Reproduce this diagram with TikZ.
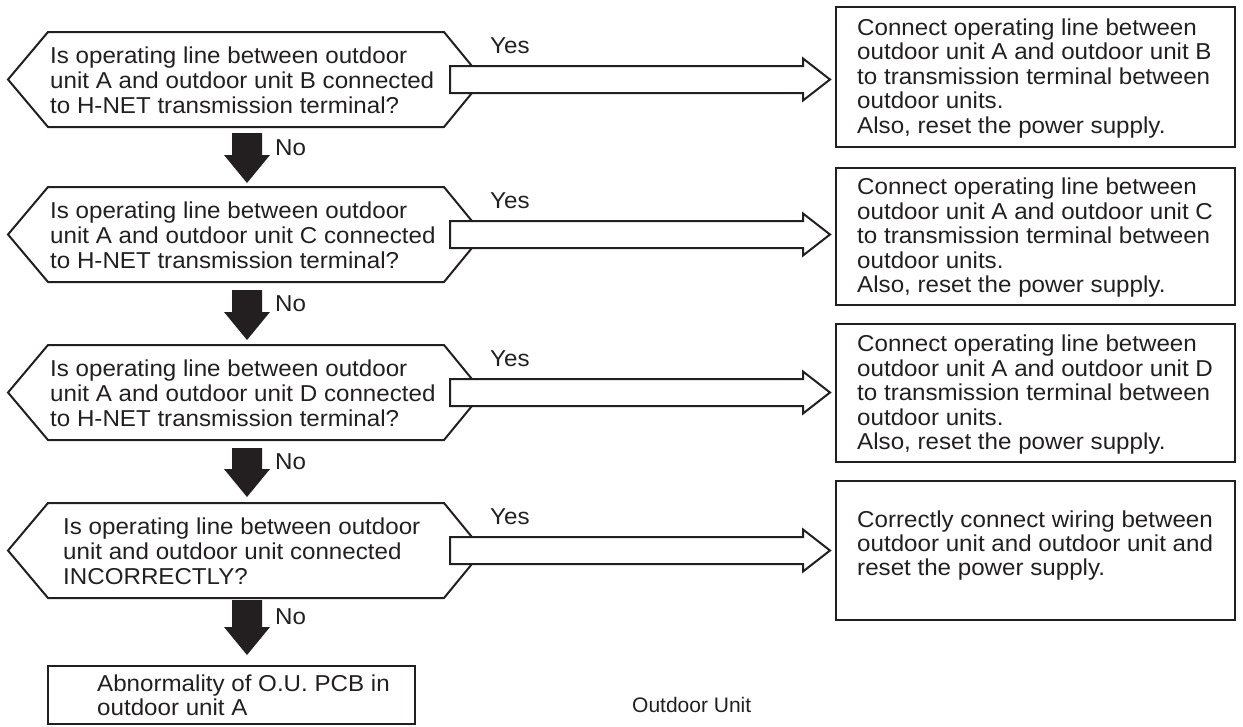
\documentclass[tikz,border=0pt]{standalone}
\usepackage{fontspec}
\setmainfont{Liberation Sans}
\newfontfamily\bodyfont[FakeStretch=1.05]{Liberation Sans}
\usetikzlibrary{calc}
\definecolor{ink}{HTML}{231F20}
\newcommand\TightLS{\lineskiplimit=-100pt\relax}
\newcommand\DownBlk[2]{%
  \fill[ink] let \p1=(#1), \p2=(#2) in
    (\x1-15pt,\y1) -- (\x1+15pt,\y1) -- (\x1+15pt,\y2+28pt) -- (\x1+23pt,\y2+28pt)
    -- (\x1,\y2) -- (\x1-23pt,\y2+28pt) -- (\x1-15pt,\y2+28pt) -- cycle;}
\newcommand\YesBlk[2]{%
  \draw[yesarr] let \p1=($(#1)+(6,0)$), \p2=($(#2)+(-6,0)$) in
    (\x1,\y1+13.5pt) -- (\x2-27pt,\y1+13.5pt) -- (\x2-27pt,\y1+21pt) -- (\x2,\y1)
    -- (\x2-27pt,\y1-21pt) -- (\x2-27pt,\y1-13.5pt) -- (\x1,\y1-13.5pt) -- cycle;}
\newcommand\HexOut[1]{%
  \draw[hexline] (#1.north west) -- (#1.north east) -- ($(#1.east)+(39,0)$)
    -- (#1.south east) -- (#1.south west) -- ($(#1.west)+(-40,0)$) -- cycle;}
\begin{document}
\begin{tikzpicture}[x=1pt,y=-1pt,
  hexcore/.style={minimum width=396pt,minimum height=95pt,inner sep=0pt,outer sep=0pt},
  hexline/.style={draw=ink,line width=2pt,line join=miter},
  qtext/.style={anchor=north west,inner sep=0pt,align=left,text=ink,
    font={\bodyfont\fontsize{23}{25}\selectfont\TightLS}},
  atext/.style={anchor=north west,inner sep=0pt,align=left,text=ink,
    font={\bodyfont\fontsize{23}{24.5}\selectfont\TightLS}},
  abox/.style={draw=ink,line width=2pt,minimum width=399pt,inner sep=0pt,outer sep=0pt},
  yesarr/.style={draw=ink,line width=2pt,fill=white,line join=miter},
  lbl/.style={anchor=west,inner sep=0pt,text=ink,font={\bodyfont\fontsize{23}{25}\selectfont}},
  small/.style={anchor=west,inner sep=0pt,text=ink,font={\fontsize{21}{24}\selectfont}}]
\useasboundingbox (0,0) rectangle (1243,726);

% decision hexagons
\node[hexcore] (h1) at (246,79.5) {};
\node[hexcore] (h2) at (246,234.5) {};
\node[hexcore] (h3) at (246,392.5) {};
\node[hexcore] (h4) at (246,550.5) {};
\HexOut{h1}\HexOut{h2}\HexOut{h3}\HexOut{h4}

\node[qtext] (q1) at (50,46.7) {Is operating line between outdoor\\unit A and outdoor unit B connected\\to H-NET transmission terminal?};
\node[qtext] (q2) at (50,201.7) {Is operating line between outdoor\\unit A and outdoor unit C connected\\to H-NET transmission terminal?};
\node[qtext] (q3) at (50,359.7) {Is operating line between outdoor\\unit A and outdoor unit D connected\\to H-NET transmission terminal?};
\node[qtext] (q4) at (63,517.7) {Is operating line between outdoor\\unit and outdoor unit connected\\INCORRECTLY?};

% action boxes
\node[abox,minimum height=140pt] (b1) at (1035.5,77) {};
\node[abox,minimum height=137pt] (b2) at (1035.5,236.5) {};
\node[abox,minimum height=138pt] (b3) at (1035.5,393) {};
\node[abox,minimum height=139pt] (b4) at (1035.5,550.5) {};

\node[atext] (a1) at (857,18.5) {Connect operating line between\\outdoor unit A and outdoor unit B\\to transmission terminal between\\outdoor units.\\Also, reset the power supply.};
\node[atext] (a2) at (857,178) {Connect operating line between\\outdoor unit A and outdoor unit C\\to transmission terminal between\\outdoor units.\\Also, reset the power supply.};
\node[atext] (a3) at (857,335) {Connect operating line between\\outdoor unit A and outdoor unit D\\to transmission terminal between\\outdoor units.\\Also, reset the power supply.};
\node[atext,font={\bodyfont\fontsize{23}{24}\selectfont\TightLS}] (a4) at (857,510.5) {Correctly connect wiring between\\outdoor unit and outdoor unit and\\reset the power supply.};

% final box
\node[draw=ink,line width=2pt,minimum width=367pt,minimum height=58pt,inner sep=0pt,outer sep=0pt] (bot) at (231.5,695) {};
\node[anchor=north west,inner sep=0pt,align=left,text=ink,font={\bodyfont\fontsize{23}{24}\selectfont\TightLS}] (fin) at (97,674.5) {Abnormality of O.U. PCB in\\outdoor unit A};

% Yes arrows
\YesBlk{h1.east}{b1.west}
\YesBlk{h2.east}{b2.west}
\YesBlk{h3.east}{b3.west}
\YesBlk{h4.east}{b4.west}
\node[lbl] (y1) at (490,45.5) {Yes};
\node[lbl] (y2) at (490,200.5) {Yes};
\node[lbl] (y3) at (490,358.5) {Yes};
\node[lbl] (y4) at (490,516.5) {Yes};

% No arrows
\DownBlk{$(h1.south)+(1,6)$}{$(h2.north)+(1,-4)$}
\DownBlk{$(h2.south)+(1,8)$}{$(h3.north)+(1,-5)$}
\DownBlk{$(h3.south)+(1,8)$}{$(h4.north)+(1,-6)$}
\DownBlk{$(h4.south)+(1,2)$}{$(h4.south |- bot.north)+(1,-11)$}
\node[lbl] (n1) at (275,148) {No};
\node[lbl] (n2) at (275,304) {No};
\node[lbl] (n3) at (275,462) {No};
\node[lbl] (n4) at (275,617) {No};

\node[small] (ou) at (632,705) {Outdoor Unit};
\end{tikzpicture}
\end{document}
